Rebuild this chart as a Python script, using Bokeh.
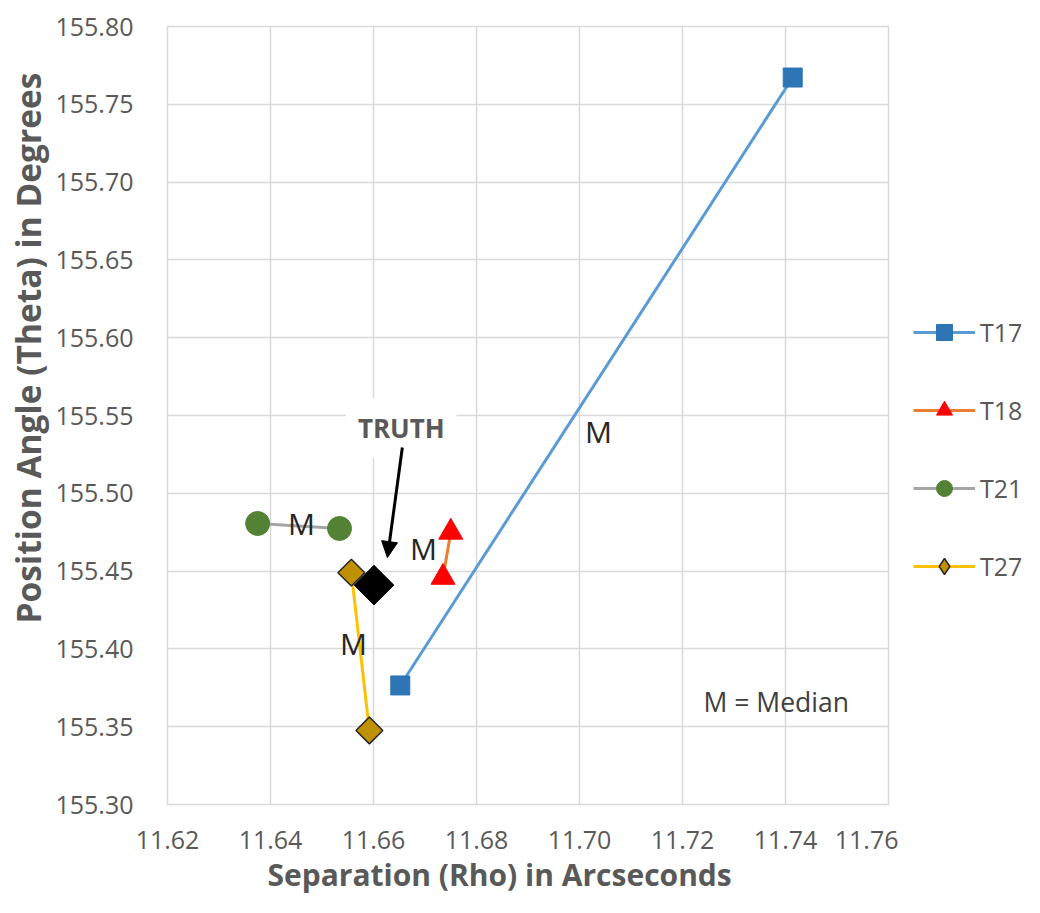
import math
from bokeh.plotting import figure
from bokeh.layouts import row
from bokeh.models import (Range1d, Legend, LegendItem, Label, Arrow, NormalHead,
                          PrintfTickFormatter, FixedTicker, ColumnDataSource, Title)
from bokeh.core.properties import value
from bokeh.embed import file_html
from bokeh.resources import INLINE

# ---- data ----
series_names = ["T17", "T18", "T21", "T27"]
t17_rho = [11.6652, 11.7414]
t17_theta = [155.3765, 155.7672]
t18_rho = [11.6735, 11.6750]
t18_theta = [155.446, 155.475]
t21_rho = [11.6375, 11.6534]
t21_theta = [155.4806, 155.4774]
t27_rho = [11.6557, 11.6592]
t27_theta = [155.449, 155.3476]
truth_rho = [11.6601]
truth_theta = [155.441]

median_rho = [11.7037, 11.6697, 11.6460, 11.6561]
median_theta = [155.5397, 155.4645, 155.4806, 155.4035]
x_ticks = [11.62, 11.64, 11.66, 11.68, 11.70, 11.72, 11.74, 11.76]
y_ticks = [155.30, 155.35, 155.40, 155.45, 155.50, 155.55, 155.60, 155.65, 155.70, 155.75, 155.80]

FONT = "Open Sans"
GRAY = "#595959"

# series styles
C17_LINE, C17_MARK = "#5B9BD5", "#2E75B6"
C18_LINE, C18_MARK = "#ED7D31", "#FF0000"
C21_LINE, C21_MARK = "#A5A5A5", "#548235"
C27_LINE, C27_MARK = "#FFC000", "#BF9000"

H = 897
p = figure(width=898, height=H, output_backend="svg", toolbar_location=None,
           x_range=Range1d(11.62, 11.76), y_range=Range1d(155.30, 155.80),
           min_border_left=167, min_border_right=10, min_border_top=26,
           min_border_bottom=93)
p.background_fill_color = "white"
p.border_fill_color = "white"
p.outline_line_color = "#D9D9D9"
p.outline_line_width = 1.5

for ax in (p.xaxis[0], p.yaxis[0]):
    ax.axis_line_color = None
    ax.major_tick_line_color = None
    ax.minor_tick_line_color = None
    ax.major_label_text_font = FONT
    ax.major_label_text_font_size = "25px"
    ax.major_label_text_color = GRAY

p.xaxis.ticker = FixedTicker(ticks=x_ticks)
p.yaxis.ticker = FixedTicker(ticks=y_ticks)
p.xaxis.formatter = PrintfTickFormatter(format="%.2f")
p.yaxis.formatter = PrintfTickFormatter(format="%.2f")
p.xaxis.major_label_standoff = 20
p.yaxis.major_label_standoff = 28

p.xgrid.ticker = FixedTicker(ticks=x_ticks)
p.ygrid.ticker = FixedTicker(ticks=y_ticks)
p.grid.grid_line_color = "#D9D9D9"
p.grid.grid_line_width = 1.5

# axis titles (side titles so they can be offset like the reference)
p.add_layout(Title(text="Position Angle (Theta) in Degrees", align="left", offset=181,
                   text_font=FONT, text_font_size="33.5px", text_font_style="bold",
                   text_color=GRAY, standoff=4), "left")
p.add_layout(Title(text="Separation (Rho) in Arcseconds", align="left", offset=100,
                   text_font=FONT, text_font_size="30px", text_font_style="bold",
                   text_color=GRAY, standoff=0), "below")

# series
p.line(t17_rho, t17_theta, line_color=C17_LINE, line_width=3)
p.scatter(t17_rho, t17_theta, marker="square", size=19, fill_color=C17_MARK,
          line_color=C17_MARK, line_width=1)
p.line(t18_rho, t18_theta, line_color=C18_LINE, line_width=3)
p.scatter(t18_rho, t18_theta, marker="triangle", size=24, fill_color=C18_MARK,
          line_color=C18_MARK)
p.line(t21_rho, t21_theta, line_color=C21_LINE, line_width=3)
p.scatter(t21_rho, t21_theta, marker="circle", size=24, fill_color=C21_MARK,
          line_color=C21_MARK)
p.line(t27_rho, t27_theta, line_color=C27_LINE, line_width=3)
p.scatter(t27_rho, t27_theta, marker="square", angle=math.pi / 4, size=19,
          fill_color=C27_MARK, line_color="#262626", line_width=1.5)

p.scatter(truth_rho, truth_theta, marker="square", angle=math.pi / 4, size=28,
          fill_color="black", line_color="black")

# median labels
msrc = ColumnDataSource(dict(x=median_rho, y=median_theta, t=["M"] * len(median_rho)))
p.text(x="x", y="y", text="t", source=msrc, text_font=value(FONT), text_font_size="30px",
       text_color="#262626", text_align="center", text_baseline="middle")

p.add_layout(Label(x=11.7241, y=155.3656, text="M = Median", text_font=FONT,
                   text_font_size="26.5px", text_color="#404040", text_baseline="middle"))

p.add_layout(Label(x=11.6654, y=155.5418, text="TRUTH", text_font=FONT,
                   text_font_size="26px", text_font_style="bold", text_color=GRAY,
                   text_align="center", text_baseline="middle",
                   background_fill_color="white", padding=12))
p.add_layout(Arrow(x_start=11.6656, y_start=155.5294, x_end=11.6627, y_end=155.4587,
                   line_color="black", line_width=3,
                   end=NormalHead(size=16, fill_color="black", line_color="black")))

# ---- legend panel (separate figure; legend glyphs use the series data, off-range) ----
lg = figure(width=126, height=H, output_backend="svg", toolbar_location=None,
            x_range=Range1d(0, 1), y_range=Range1d(0, 1),
            min_border=0, outline_line_color=None)
lg.axis.visible = False
lg.grid.visible = False
lg.border_fill_color = "white"

rs = []
rs.append([lg.line(t17_rho, t17_theta, line_color=C17_LINE, line_width=3),
           lg.scatter(t17_rho, t17_theta, marker="square", fill_color=C17_MARK,
                      line_color=C17_MARK)])
rs.append([lg.line(t18_rho, t18_theta, line_color=C18_LINE, line_width=3),
           lg.scatter(t18_rho, t18_theta, marker="triangle", fill_color=C18_MARK,
                      line_color=C18_MARK)])
rs.append([lg.line(t21_rho, t21_theta, line_color=C21_LINE, line_width=3),
           lg.scatter(t21_rho, t21_theta, marker="circle", fill_color=C21_MARK,
                      line_color=C21_MARK)])
rs.append([lg.line(t27_rho, t27_theta, line_color=C27_LINE, line_width=3),
           lg.scatter(t27_rho, t27_theta, marker="diamond", fill_color=C27_MARK,
                      line_color="#262626", line_width=1.5)])

items = [LegendItem(label=n, renderers=r) for n, r in zip(series_names, rs)]
legend = Legend(items=items, location=(15, 218), orientation="vertical",
                glyph_width=62, glyph_height=40, label_height=20, spacing=38,
                label_standoff=5, padding=0, margin=0, border_line_color=None,
                background_fill_alpha=0, label_text_font=FONT,
                label_text_font_size="25px", label_text_color=GRAY)
lg.add_layout(legend)

layout = row(p, lg, spacing=0)
open("out.html", "w").write(file_html(layout, INLINE))
